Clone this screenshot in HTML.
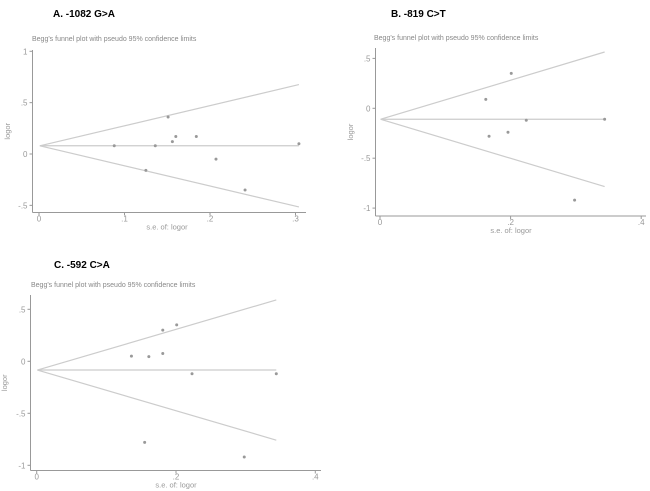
<!DOCTYPE html>
<html><head><meta charset="utf-8">
<style>
html,body{margin:0;padding:0;background:#fff;width:650px;height:491px;overflow:hidden}
svg{display:block;font-family:"Liberation Sans",Arial,sans-serif}
.lab{font-weight:bold;font-size:10px;fill:#000}
.ttl{font-size:7px;fill:#888}
.tk{font-size:8px;fill:#999}
.ax{font-size:7.5px;fill:#999}
</style></head>
<body>
<svg id="chart" width="650" height="491"></svg>
<script>
// Panel A data
const aSE=[0.088,0.125,0.136,0.151,0.156,0.160,0.184,0.207,0.241,0.304];
const aLOR=[0.08,-0.16,0.08,0.36,0.12,0.17,0.17,-0.05,-0.35,0.10];
const aCenter=0.08;
const aYTicks=[1,0.5,0,-0.5];
const aYTickLabels=["1",".5","0","-.5"];
const aXTicks=[0,0.1,0.2,0.3];
const aXTickLabels=["0",".1",".2",".3"];
// Panel B data
const bSE=[0.162,0.167,0.196,0.201,0.224,0.298,0.344];
const bLOR=[0.09,-0.28,-0.24,0.35,-0.12,-0.92,-0.11];
const bCenter=-0.11;
const bYTicks=[0.5,0,-0.5,-1];
const bYTickLabels=[".5","0","-.5","-1"];
const bXTicks=[0,0.2,0.4];
const bXTickLabels=["0",".2",".4"];
// Panel C data
const cSE=[0.136,0.161,0.181,0.181,0.201,0.155,0.223,0.298,0.344];
const cLOR=[0.05,0.045,0.30,0.075,0.35,-0.78,-0.12,-0.92,-0.12];
const cCenter=-0.084;
const cYTicks=[0.5,0,-0.5,-1];
const cYTickLabels=[".5","0","-.5","-1"];
const cXTicks=[0,0.2,0.4];
const cXTickLabels=["0",".2",".4"];

const NS="http://www.w3.org/2000/svg";
const svg=document.getElementById('chart');
function mk(tag,attrs,parent,text){const e=document.createElementNS(NS,tag);for(const k in attrs)e.setAttribute(k,attrs[k]);if(text!==undefined)e.textContent=text;(parent||svg).appendChild(e);return e;}

function panel(cfg){
  const g=mk('g',{});
  
  
  const sx=v=>cfg.x0+v*cfg.xs, sy=v=>cfg.y0-v*cfg.ys;
  const lab=mk('text',{x:cfg.labX,y:cfg.labY,class:'lab'},g,cfg.label);
  
  
  const t=mk('text',{x:cfg.tX,y:cfg.tY,class:'ttl'},g,"Begg's funnel plot with pseudo 95% confidence limits");
  
  
  // axes
  const ya=mk('line',{x1:cfg.axX,y1:cfg.yTop,x2:cfg.axX,y2:cfg.axY,stroke:'#999','stroke-width':1},g);
  
  
  const xa=mk('line',{x1:cfg.axX,y1:cfg.axY,x2:cfg.xRight,y2:cfg.axY,stroke:'#999','stroke-width':1},g);
  
  
  cfg.yt.forEach((v,i)=>{
    const y=sy(v);
    const tl=mk('line',{x1:cfg.axX-3,y1:y,x2:cfg.axX,y2:y,stroke:'#999'},g);
    
    
    const tt=mk('text',{x:cfg.axX-5,y:y+3,'text-anchor':'end',class:'tk'},g,cfg.ytl[i]);
    
    
  });
  cfg.xt.forEach((v,i)=>{
    const x=sx(v);
    const tl=mk('line',{x1:x,y1:cfg.axY,x2:x,y2:cfg.axY+3,stroke:'#999'},g);
    
    
    const tt=mk('text',{x:x,y:cfg.axY+9,'text-anchor':'middle',class:'tk'},g,cfg.xtl[i]);
    
    
  });
  const xt=mk('text',{x:cfg.xTitleX,y:cfg.axY+17,'text-anchor':'middle',class:'ax'},g,'s.e. of: logor');
  
  
  const yy=(cfg.yTop+cfg.axY)/2;
  const ytt=mk('text',{x:cfg.yTitleX,y:yy,'text-anchor':'middle',class:'ax',transform:`rotate(-90 ${cfg.yTitleX} ${yy})`},g,'logor');
  
  
  // funnel lines
  const maxSE=Math.max(...cfg.se);
  const c=cfg.center;
  const lines=[[c,c,'center-line'],[c,c+1.96*maxSE,'upper-limit'],[c,c-1.96*maxSE,'lower-limit']];
  lines.forEach(l=>{
    const ln=mk('line',{x1:sx(0.001),y1:sy(l[0]),x2:sx(maxSE),y2:sy(l[1]),stroke:'#ccc','stroke-width':1.2},g);
    
    
  });
  cfg.se.forEach((s,i)=>{
    const p=mk('circle',{cx:sx(s),cy:sy(cfg.lor[i]),r:1.5,fill:'#999'},g);
    
    
  });
}

panel({id:'panel-a',label:'A. -1082 G>A',labX:53,labY:17,tX:32,tY:41,x0:39,xs:855,y0:154,ys:102.7,
  axX:32.5,axY:212.5,yTop:50,xRight:306,xTitleX:167,yTitleX:10,
  se:aSE,lor:aLOR,center:aCenter,yt:aYTicks,ytl:aYTickLabels,xt:aXTicks,xtl:aXTickLabels});
panel({id:'panel-b',label:'B. -819 C>T',labX:391,labY:17,tX:374,tY:40,x0:380,xs:653,y0:108.3,ys:99.8,
  axX:375.5,axY:216,yTop:48,xRight:646,xTitleX:511,yTitleX:353,
  se:bSE,lor:bLOR,center:bCenter,yt:bYTicks,ytl:bYTickLabels,xt:bXTicks,xtl:bXTickLabels});
panel({id:'panel-c',label:'C. -592 C>A',labX:54,labY:268,tX:31,tY:287,x0:36.7,xs:696.5,y0:361.3,ys:104,
  axX:30.5,axY:470.5,yTop:295,xRight:321,xTitleX:176,yTitleX:7,
  se:cSE,lor:cLOR,center:cCenter,yt:cYTicks,ytl:cYTickLabels,xt:cXTicks,xtl:cXTickLabels});
</script>
</body></html>
